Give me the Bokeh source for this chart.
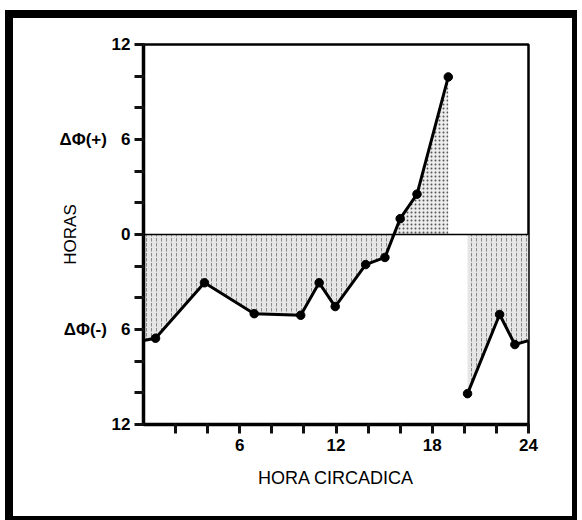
from bokeh.plotting import figure
from bokeh.models import Range1d, FixedTicker, Span
from bokeh.embed import file_html
from bokeh.resources import INLINE
import numpy as np

# --- data (circadian hour vs phase shift in hours) ---
hours_a = [0, 0.75, 3.8, 6.9, 9.8, 10.95, 11.95, 13.85, 15.05, 16.0, 17.05, 19.0]
shift_a = [-6.7, -6.55, -3.05, -5.0, -5.1, -3.05, -4.55, -1.9, -1.45, 1.0, 2.55, 9.95]
marked_a = [False, True, True, True, True, True, True, True, True, True, True, True]

hours_b = [20.2, 22.2, 23.15, 24]
shift_b = [-10.05, -5.05, -6.95, -6.7]
marked_b = [True, True, True, False]

x_ticks = [6, 12, 18, 24]
x_minor = [2, 4, 8, 10, 14, 16, 20, 22]
y_ticks = [-12, -6, 0, 6, 12]
y_minor = [-10, -8, -4, -2, 2, 4, 8, 10]
y_tick_labels = {12: "12", 6: "ΔΦ(+)\u00a0\u00a0\u00a06", 0: "0",
                 -6: "ΔΦ(-)\u00a0\u00a0\u00a06", -12: "12"}
x_title = "HORA CIRCADICA"
y_title = "HORAS"


def with_crossings(xs, ys):
    ox, oy = [xs[0]], [ys[0]]
    for i in range(1, len(xs)):
        x0, y0, x1, y1 = xs[i - 1], ys[i - 1], xs[i], ys[i]
        if y0 * y1 < 0:
            t = -y0 / (y1 - y0)
            ox.append(x0 + t * (x1 - x0))
            oy.append(0.0)
        ox.append(x1)
        oy.append(y1)
    return np.array(ox), np.array(oy)


# outer frame drawn with CSS borders (border-box sizing)
ML, MT = 5, 10
BL, BT, BR, BB = 8, 8, 5, 4
W = 582 - ML - 5
H = 520 - MT
OX, OY = ML + BL, MT + BT

p = figure(width=W, height=H, output_backend="svg", toolbar_location=None,
           x_range=Range1d(0, 24), y_range=Range1d(-12, 12),
           min_border_left=143 - OX, min_border_right=W - (528 - OX),
           min_border_top=44 - OY, min_border_bottom=H - (424 - OY))
p.styles = {"box-sizing": "border-box", "margin-left": f"{ML}px", "margin-top": f"{MT}px",
            "border-left": f"{BL}px solid black", "border-top": f"{BT}px solid black",
            "border-right": f"{BR}px solid black", "border-bottom": f"{BB}px solid black"}
p.grid.visible = False
p.background_fill_color = "white"
p.border_fill_color = "white"
p.outline_line_color = "black"
p.outline_line_width = 2.5

FONT = "Liberation Sans"

p.xaxis.ticker = FixedTicker(ticks=x_ticks, minor_ticks=x_minor)
p.yaxis.ticker = FixedTicker(ticks=y_ticks, minor_ticks=y_minor)
p.yaxis.major_label_overrides = y_tick_labels
for ax in (p.xaxis[0], p.yaxis[0]):
    ax.axis_line_width = 3.5
    ax.axis_line_color = "black"
    ax.major_tick_in = 1
    ax.major_tick_out = 9
    ax.minor_tick_in = 1
    ax.minor_tick_out = 9
    ax.major_tick_line_width = 3
    ax.minor_tick_line_width = 3
    ax.major_tick_line_color = "#111111"
    ax.minor_tick_line_color = "#111111"
    ax.major_label_text_font = FONT
    ax.major_label_text_font_style = "bold"
    ax.major_label_text_font_size = "17px"
    ax.major_label_text_color = "black"
    ax.axis_label_text_font = FONT
    ax.axis_label_text_font_style = "normal"
    ax.axis_label_text_font_size = "18px"
    ax.axis_label_text_color = "black"

p.xaxis.major_label_standoff = 5
p.yaxis.major_label_standoff = 4
p.xaxis.axis_label = x_title
p.xaxis.axis_label_standoff = 14
p.yaxis.axis_label = y_title
p.yaxis.axis_label_standoff = -24
p.yaxis.axis_label_text_font_size = "17px"

for hx, sy in ((hours_a, shift_a), (hours_b, shift_b)):
    cx, cy = with_crossings(hx, sy)
    p.varea(x=cx, y1=np.minimum(cy, 0), y2=0, fill_color="#e6e6e6", fill_alpha=1.0,
            hatch_pattern="vertical_dash", hatch_color="#8a8a8a", hatch_scale=5, hatch_weight=1)
    if cy.max() > 0:
        p.varea(x=cx, y1=0, y2=np.maximum(cy, 0), fill_color="#ececec", fill_alpha=1.0,
                hatch_pattern="dot", hatch_color="#555555", hatch_scale=4, hatch_weight=1)

p.add_layout(Span(location=0, dimension="width", line_color="black", line_width=1.5))

for hx, sy, mk in ((hours_a, shift_a, marked_a), (hours_b, shift_b, marked_b)):
    p.line(hx, sy, line_color="black", line_width=3)
    mx = [x for x, m in zip(hx, mk) if m]
    my = [y for y, m in zip(sy, mk) if m]
    p.scatter(mx, my, size=8.5, color="black")

open("out.html", "w").write(file_html(p, INLINE))
